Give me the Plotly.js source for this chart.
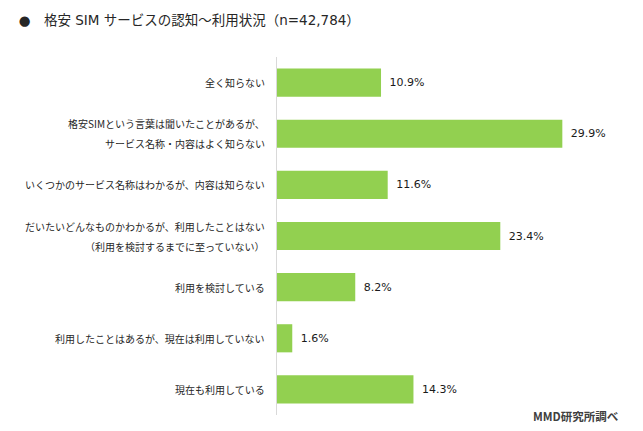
<!DOCTYPE html>
<html>
<head>
<meta charset="utf-8">
<script src="https://cdn.plot.ly/plotly-3.0.1.min.js"></script>
<style>html,body{margin:0;padding:0;background:#fff;}#chart{width:643px;height:431px;}</style>
</head>
<body>
<div id="chart"></div>
<script>
const categories = [
  "全く知らない",
  "格安SIMという言葉は聞いたことがあるが、\nサービス名称・内容はよく知らない",
  "いくつかのサービス名称はわかるが、内容は知らない",
  "だいたいどんなものかわかるが、利用したことはない\n（利用を検討するまでに至っていない）",
  "利用を検討している",
  "利用したことはあるが、現在は利用していない",
  "現在も利用している"
];
const values = [10.9, 29.9, 11.6, 23.4, 8.2, 1.6, 14.3];
const titleText = "●\u3000格安 SIM サービスの認知～利用状況（n=42,784）";
const sourceText = "MMD研究所調べ";

const FONT = '"Noto Sans CJK JP", "Noto Sans", sans-serif';
const LATIN_FONT = '"DejaVu Sans", "Noto Sans CJK JP", sans-serif';

const annotations = [];
categories.forEach(function (cat) {
  const lines = cat.split("\n");
  const n = lines.length;
  lines.forEach(function (ln, i) {
    annotations.push({
      xref: "paper", yref: "y", x: 0, y: cat,
      xanchor: "right", yanchor: "middle", xshift: -10,
      yshift: ((n - 1) / 2 - i) * 20,
      text: ln, showarrow: false,
      font: {family: FONT, size: 10, color: "#262626"}
    });
  });
});
annotations.push({
  xref: "paper", yref: "paper", x: 1, y: 0, xanchor: "right", yanchor: "middle",
  xshift: 10, yshift: -1,
  text: "<b>" + sourceText + "</b>", showarrow: false,
  font: {family: FONT, size: 11.5, color: "#404040"}
});

const trace = {
  type: "bar", orientation: "h",
  y: categories, x: values,
  marker: {color: "#92D050"},
  text: values.map(v => v.toFixed(1) + "%"),
  texttemplate: "\u2002%{text}",
  textposition: "outside",
  textfont: {family: LATIN_FONT, size: 11, color: "#1a1a1a"},
  cliponaxis: false,
  hoverinfo: "none"
};

const layout = {
  width: 643, height: 431,
  margin: {l: 277, r: 32, t: 57, b: 16},
  paper_bgcolor: "#fff", plot_bgcolor: "#fff",
  showlegend: false,
  bargap: 0.45,
  title: {
    text: titleText, xref: "container", yref: "container",
    x: 0.029, xanchor: "left", y: 0.953, yanchor: "middle",
    font: {family: LATIN_FONT, size: 13.5, color: "#262626"}
  },
  xaxis: {range: [0, 35], showgrid: false, zeroline: false, showline: false,
          showticklabels: false, ticks: "", fixedrange: true},
  yaxis: {type: "category", autorange: "reversed", showgrid: false, zeroline: false,
          showline: true, linecolor: "#d9d9d9", linewidth: 1,
          showticklabels: false, ticks: "", fixedrange: true},
  annotations: annotations
};

Plotly.newPlot("chart", [trace], layout, {displayModeBar: false, staticPlot: true});
</script>
</body>
</html>
